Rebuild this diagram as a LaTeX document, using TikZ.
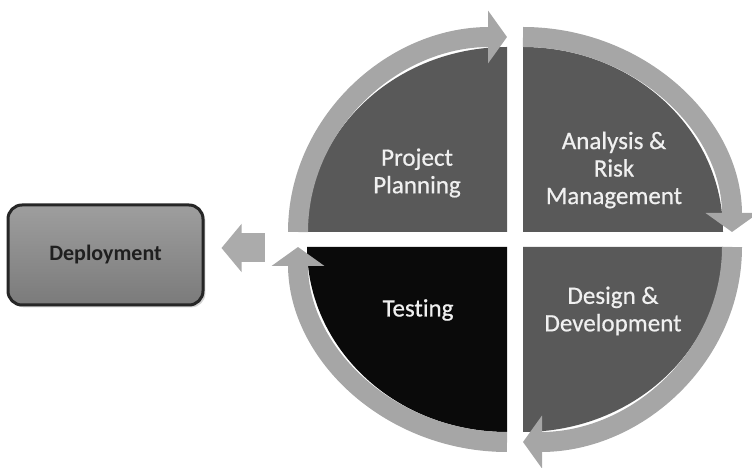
\documentclass[tikz,border=0pt]{standalone}
\usepackage{fontspec}
\setmainfont{Carlito}[Ligatures=NoCommon]
\newfontfamily\phasefont{Carlito}[Ligatures=NoCommon, FakeBold=0.6]
\usepackage{tikz}
\usetikzlibrary{positioning, arrows.meta, shadows}

\begin{document}
\begin{tikzpicture}[x=1pt, y=1pt, thick]
        % Define block styles
        \tikzstyle{quarter} = [fill=black!65]
        \tikzstyle{band} = [draw=black!35, line width=20pt, -{Triangle[length=19pt, width=52pt]}]
        \tikzstyle{phase} = [align=center, text=black!6, font=\phasefont\fontsize{25}{27.5}\selectfont]
        \tikzstyle{block} = [rectangle, draw=black!85, line width=3pt, rounded corners=14pt, top color=black!38, bottom color=black!52, minimum width=195pt, minimum height=100pt, drop shadow={opacity=0.35}, text=black!88, font=\fontsize{22}{24}\selectfont\bfseries]

        \useasboundingbox (0,0) rectangle (752,468);

        % Draw the four quarters
        \fill [quarter] (507,236) -- ++(-200,0) arc[start angle=180, end angle=90, x radius=200, y radius=185] -- cycle;
        \fill [quarter] (523,236) -- ++(0,185) arc[start angle=90, end angle=0, x radius=200, y radius=185] -- cycle;
        \fill [quarter] (523,221) -- ++(200,0) arc[start angle=0, end angle=-90, x radius=200, y radius=185] -- cycle;
        \fill [quarter, fill=black!96] (507,221) -- ++(0,-185) arc[start angle=270, end angle=180, x radius=200, y radius=185] -- cycle;

        % Draw the cycle arrows
        \draw [band] (298,236) arc[start angle=180, end angle=90, x radius=209, y radius=195];
        \draw [band] (523,431) arc[start angle=90, end angle=0, x radius=209, y radius=195];
        \draw [band] (732,221) arc[start angle=0, end angle=-90, x radius=209, y radius=195];
        \draw [band] (507,26) arc[start angle=270, end angle=180, x radius=209, y radius=195];

        % Place phase nodes
        \node [phase] (plan) at (417,295) {Project\\Planning};
        \node [phase] (analysis) at (614,298) {Analysis \&\\Risk\\Management};
        \node [phase] (design) at (613,157) {Design \&\\Development};
        \node [phase] (testing) at (418,158) {Testing};

        % Place deployment block
        \node [block] (deploy) at (105.5,213) {Deployment};
        \coordinate [right=60pt of deploy.east, yshift=7pt] (dstart);

        % Draw connection to deployment
        \draw [draw=black!33, line width=29pt, -{Triangle[length=20pt, width=47pt]}, shorten >=17pt] (dstart) -- (dstart -| deploy.east);

\end{tikzpicture}
\end{document}
